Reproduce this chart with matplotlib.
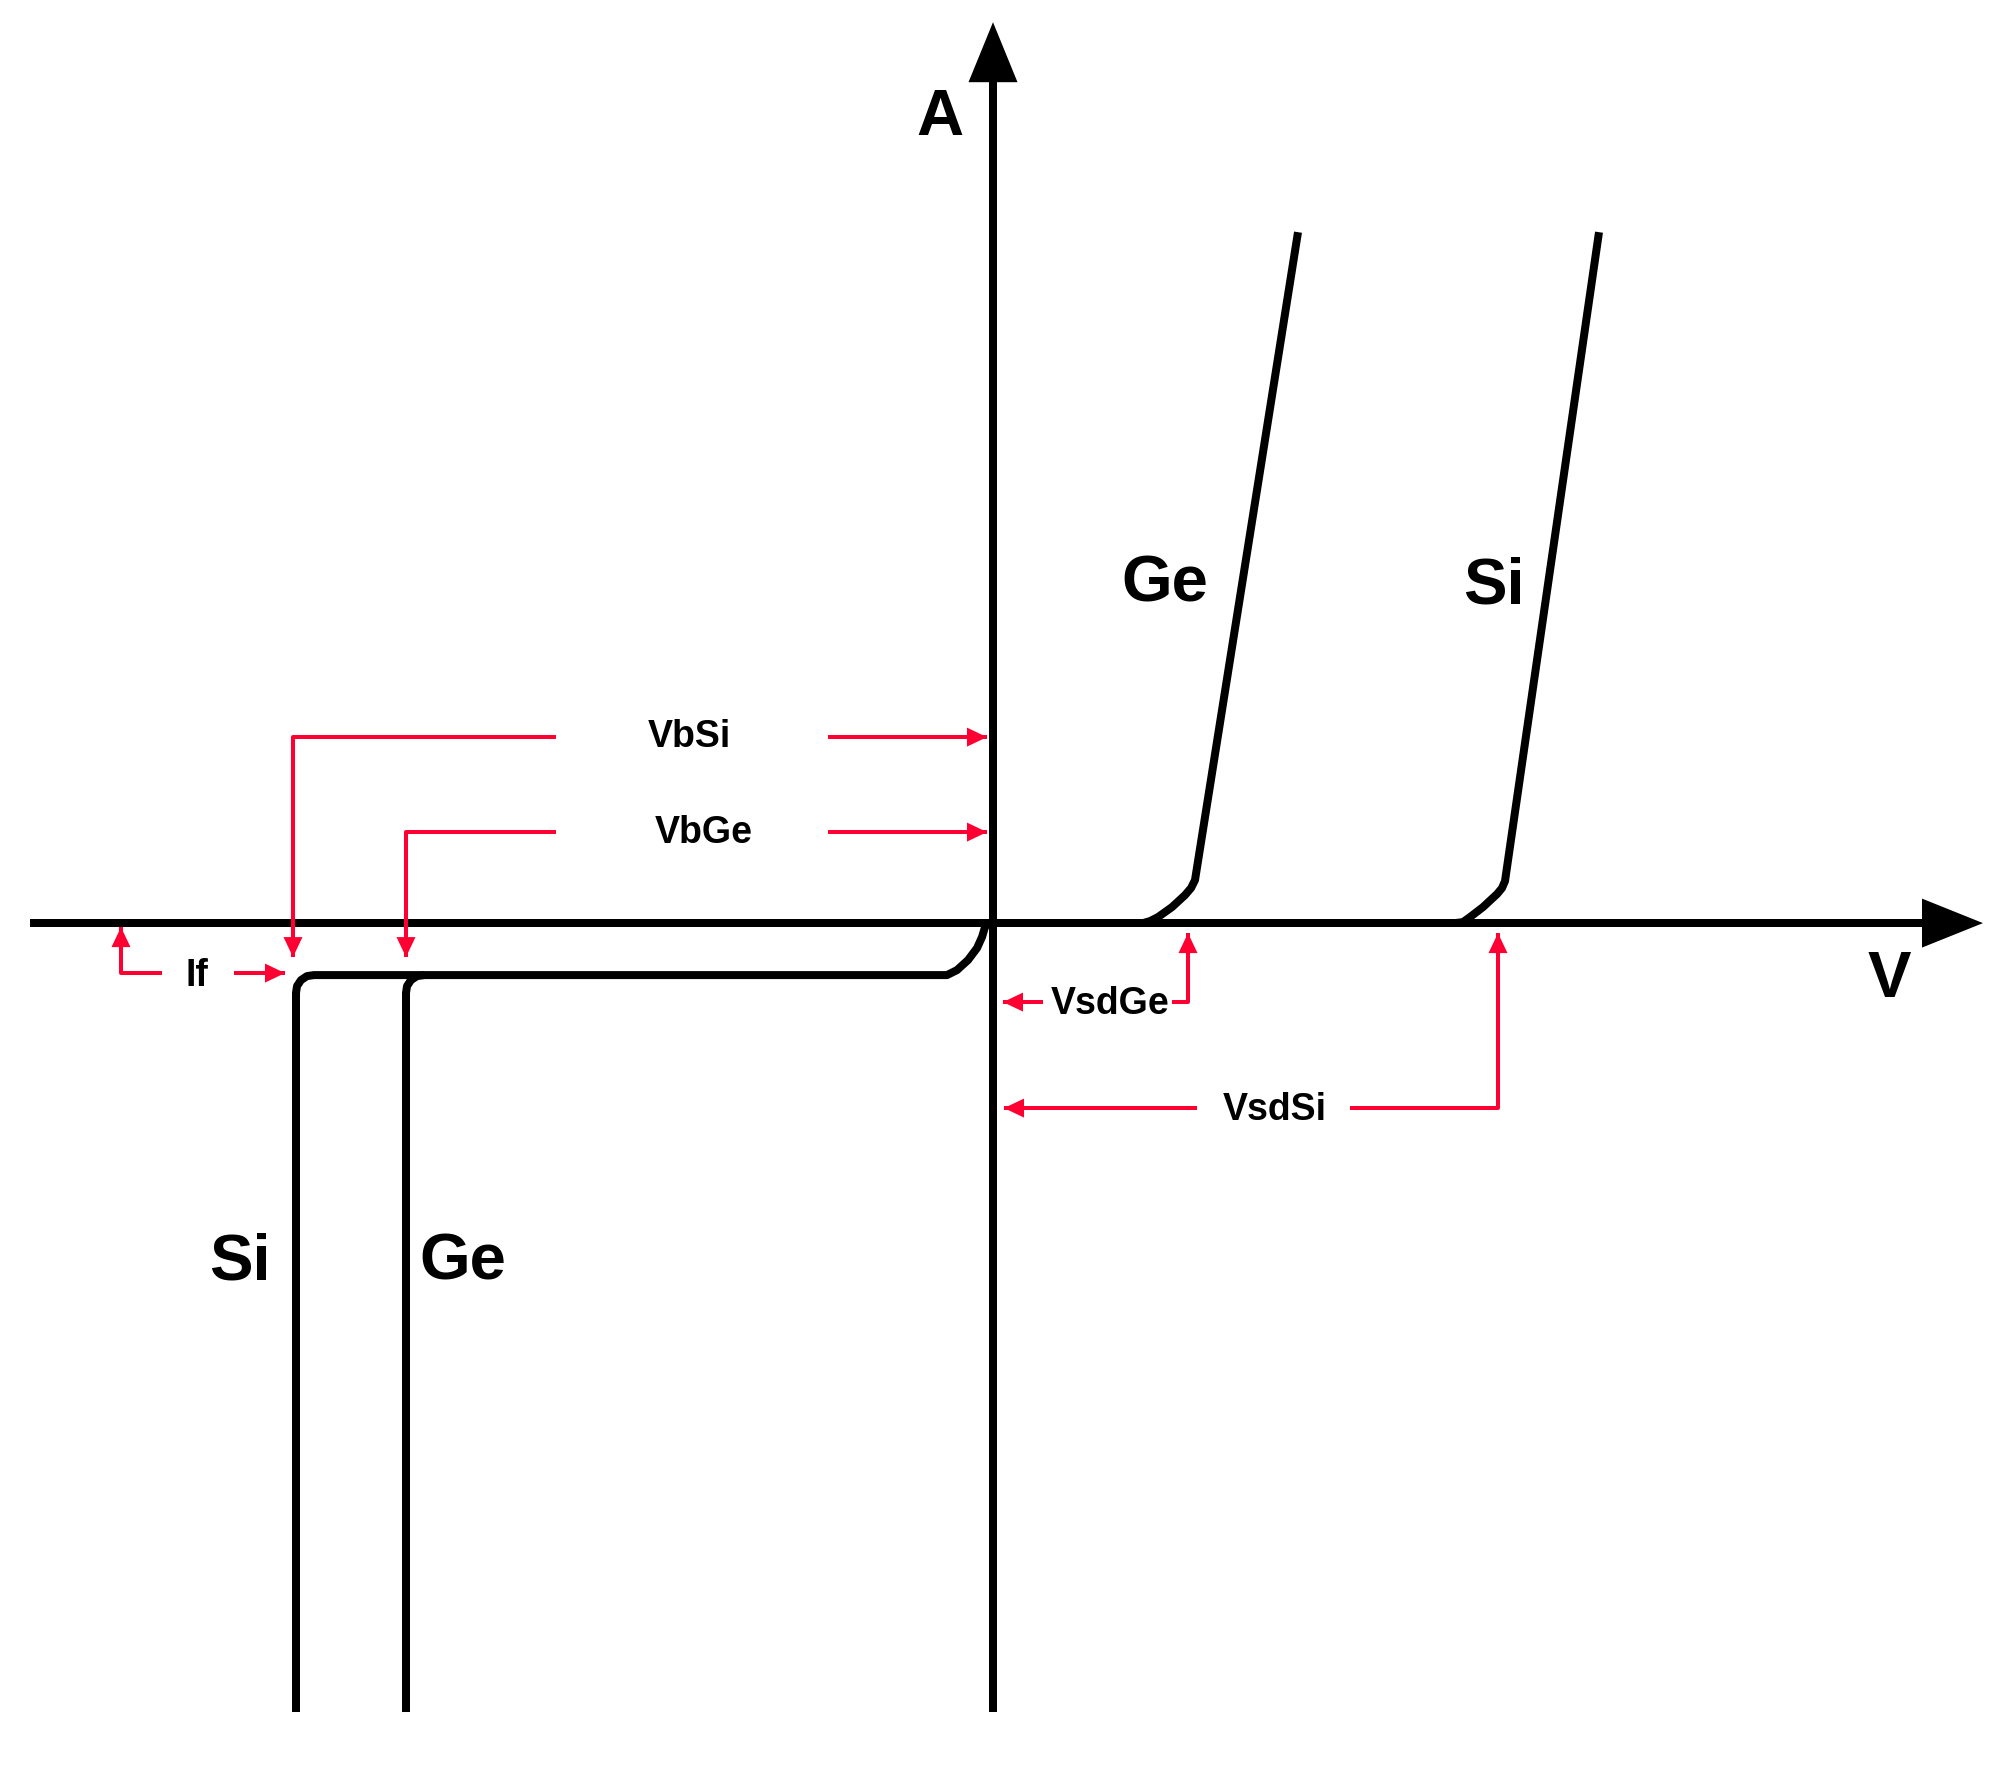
import matplotlib
matplotlib.use('Agg')
import matplotlib.pyplot as plt
import numpy as np

# diagram units: 1 unit = 1 px of the 2000x1776 output, origin where the axes cross
# forward characteristics (V, I)
ge_fwd_v = [150, 157, 165, 179, 192, 198, 202, 305]
ge_fwd_i = [0, 2, 6, 16, 28, 35, 43, 691]
si_fwd_v = [462, 470, 477, 490, 504, 509, 512, 606]
si_fwd_i = [0, 1, 6, 16, 29, 35, 42, 691]

# reverse characteristics
si_rev_v = [-697, -697, -696, -692, -686, -679, -46, -36, -25, -16, -11, -8, -5]
si_rev_i = [-789, -70, -63, -57, -53, -52, -52, -47, -37, -25, -14, -4, 0]
ge_rev_v = [-587, -587, -586, -582, -576, -569]
ge_rev_i = [-789, -70, -63, -57, -53, -52]

# axes extents
v_axis = [-963, 990]
i_axis = [-789, 901]

# red annotation leaders (last point is the arrow tip)
leaders = [
    ([-437, -700, -700], [186, 186, -34]),
    ([-165, -6], [186, 186]),
    ([-437, -587, -587], [91, 91, -34]),
    ([-165, -6], [91, 91]),
    ([-831, -872, -872], [-50, -50, -4]),
    ([-759, -708], [-50, -50]),
    ([50, 10], [-79, -79]),
    ([179, 195, 195], [-79, -79, -10]),
    ([204, 11], [-185, -185]),
    ([357, 505, 505], [-185, -185, -10]),
]

# labels: text, x centre, baseline y
big_labels = [('A', -53, 789), ('V', 896, -73), ('Ge', 172, 322), ('Si', 501, 320),
              ('Si', -753, -356), ('Ge', -530, -356)]
small_labels = [('VbSi', -304, 177), ('VbGe', -289, 81), ('If', -796, -62),
                ('VsdGe', 117, -90), ('VsdSi', 282, -196)]

RED = '#ff0033'
BLACK_LW = 8 * 0.72
RED_LW = 4 * 0.72


def head(ax, tip, prev, length, width, color):
    tip = np.array(tip, float)
    d = tip - np.array(prev, float)
    d /= np.hypot(*d)
    n = np.array([-d[1], d[0]])
    base = tip - d * length
    pts = np.array([tip, base + n * width / 2, base - n * width / 2])
    ax.fill(pts[:, 0], pts[:, 1], color=color, lw=0)


fig = plt.figure(figsize=(20, 17.758), dpi=100)
ax = fig.add_axes([0, 0, 1, 1])
ax.set_xlim(-993, 1007)
ax.set_ylim(-852, 924)
ax.axis('off')

# axes with arrows
ax.plot([v_axis[0], v_axis[1] - 55], [0, 0], color='black', lw=BLACK_LW, solid_capstyle='butt')
head(ax, (v_axis[1], 0), (0, 0), 61, 49, 'black')
ax.plot([0, 0], [i_axis[0], i_axis[1] - 55], color='black', lw=BLACK_LW, solid_capstyle='butt')
head(ax, (0, i_axis[1]), (0, 0), 60, 49, 'black')

# curves
for v, i in [(ge_fwd_v, ge_fwd_i), (si_fwd_v, si_fwd_i), (si_rev_v, si_rev_i), (ge_rev_v, ge_rev_i)]:
    ax.plot(v, i, color='black', lw=BLACK_LW, solid_capstyle='butt', solid_joinstyle='round')

# red leaders
for xs, ys in leaders:
    ax.plot(xs, ys, color=RED, lw=RED_LW, solid_capstyle='butt')
    head(ax, (xs[-1], ys[-1]), (xs[-2], ys[-2]), 20, 19, RED)

for t, x, y in big_labels:
    ax.text(x, y, t, ha='center', va='baseline', fontsize=47,
            fontfamily='Liberation Sans', fontweight='bold')
for t, x, y in small_labels:
    ax.text(x, y, t, ha='center', va='baseline', fontsize=27,
            fontfamily='Liberation Sans', fontweight='bold')

fig.savefig('out.png', dpi=100, facecolor='white')
